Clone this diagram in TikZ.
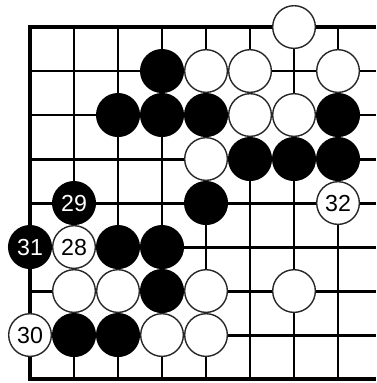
\documentclass[tikz,border=0pt]{standalone}
\usepackage{fontspec}
\setmainfont{Liberation Sans}
\usetikzlibrary{positioning}

\begin{document}
\begin{tikzpicture}[
  every node/.style={font=\fontsize{15}{17}\selectfont},
  gridline/.style={line width=1.9pt, black},
  edgeline/.style={line width=2.6pt, black, line join=miter},
  stone/.style={circle, line width=0.9pt, minimum size=0.97cm, inner sep=0pt},
  bstone/.style={stone, fill=black, draw=black, text=white},
  wstone/.style={stone, fill=white, draw=black!85, text=black}
]
\useasboundingbox (-0.682,0.614) rectangle (7.864,-8.09);

\foreach \c in {1,...,7}
  \draw[gridline] (\c,0) -- (\c,-8);
\foreach \r in {1,...,7}
  \draw[gridline] (0,-\r) -- (7.864,-\r);
\draw[edgeline] (7.864,0) -- (0,0) -- (0,-8) -- (7.864,-8);

\foreach \x/\y in {3/1, 2/2, 3/2, 4/2, 7/2, 5/3, 6/3, 7/3, 4/4,
                   2/5, 3/5, 3/6, 1/7, 2/7}
  \node[bstone] (b\x\y) at (\x,-\y) {};
\foreach \x/\y in {6/0, 4/1, 5/1, 7/1, 5/2, 6/2, 4/3,
                   1/6, 2/6, 4/6, 6/6, 3/7, 4/7}
  \node[wstone] (w\x\y) at (\x,-\y) {};

\node[bstone] (m29) at (1,-4) {29};
\node[bstone] (m31) at (0,-5) {31};
\node[wstone] (m28) at (1,-5) {28};
\node[wstone] (m32) at (7,-4) {32};
\node[wstone] (m30) at (0,-7) {30};
\end{tikzpicture}
\end{document}
